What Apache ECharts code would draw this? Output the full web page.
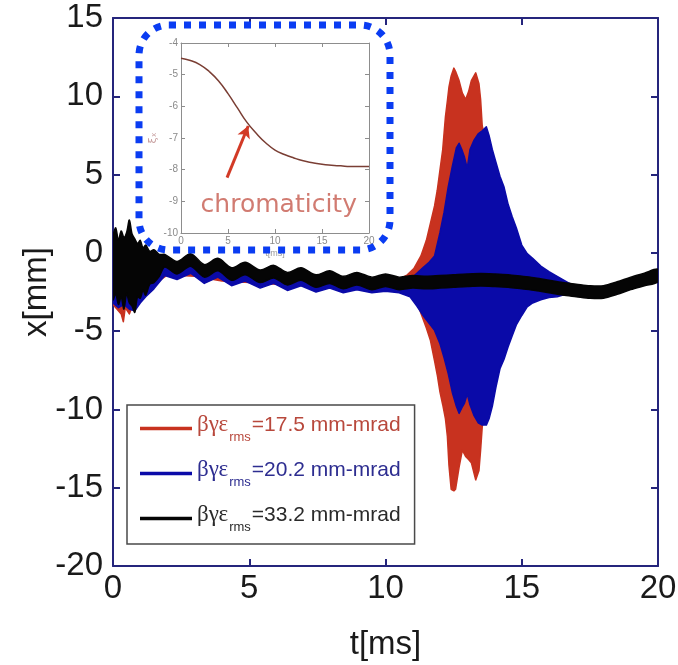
<!DOCTYPE html>
<html>
<head>
<meta charset="utf-8">
<script src="https://cdn.jsdelivr.net/npm/echarts@6/dist/echarts.min.js"></script>
<style>html,body{margin:0;padding:0;background:#fff}#c{width:678px;height:665px}</style>
</head>
<body>
<div id="c"></div>
<script>
// ---------- main chart data ----------
const xTicks = [0, 5, 10, 15, 20];
const yTicks = [-20, -15, -10, -5, 0, 5, 10, 15];

// red beam: beta-gamma-eps_rms = 17.5 mm-mrad (envelope: upper / lower)
const redT  = [0.0, 0.15, 0.3, 0.38, 0.45, 0.6, 0.75, 1.0, 1.3, 1.6, 2.0, 3.0, 4.0, 5.0, 6.0, 7.0, 8.0, 9.0, 10.0, 10.6, 10.8, 11.04, 11.3, 11.5, 11.65, 11.8, 11.9, 12.0, 12.1, 12.2, 12.27, 12.33, 12.41, 12.51, 12.57, 12.7, 12.82, 12.94, 13.05, 13.15, 13.31, 13.43, 13.49, 13.55, 13.7, 14.0, 14.3, 14.6, 15.0, 15.5, 16.0, 17.0, 18.0, 19.0, 20.0];
const redHi = [0.0, 0.5, 0.2, 0.4, 0.3, 0.8, 0.4, 0.0, -0.3, -0.5, -0.8, -1.0, -1.2, -1.3, -1.5, -1.6, -1.7, -1.8, -1.8, -1.6, -1.4, -1.0, -0.2, 0.8, 1.9, 3.0, 4.0, 5.3, 6.6, 8.7, 9.7, 10.6, 11.3, 11.8, 11.6, 11.0, 10.2, 9.8, 10.3, 11.0, 11.5, 10.8, 9.8, 8.1, 7.0, 5.0, 3.0, 1.2, -0.5, -1.4, -1.8, -2.2, -2.3, -1.8, -1.3];
const redLo = [-3.3, -3.6, -3.9, -4.4, -3.5, -3.9, -3.2, -3.0, -2.5, -1.9, -1.4, -1.5, -1.8, -1.9, -2.0, -2.1, -2.2, -2.3, -2.4, -2.5, -2.55, -2.6, -3.85, -4.8, -5.6, -6.9, -7.8, -8.9, -9.7, -10.6, -11.7, -13.6, -15.1, -15.2, -15.1, -13.7, -12.6, -13.0, -13.2, -13.4, -14.5, -13.9, -12.6, -11.1, -10.0, -8.0, -6.0, -4.5, -3.2, -2.7, -2.6, -2.7, -2.7, -2.2, -1.7];

// blue beam: 20.2 mm-mrad
const blueT  = [0.0, 0.2, 0.4, 0.6, 0.8, 1.0, 1.2, 1.5, 1.9, 2.35, 2.85, 3.35, 3.85, 4.35, 4.85, 5.4, 5.9, 6.4, 6.9, 7.45, 7.95, 8.45, 8.95, 9.5, 10.0, 10.5, 10.9, 11.15, 11.4, 11.6, 11.8, 12.0, 12.15, 12.3, 12.45, 12.6, 12.7, 12.8, 12.9, 13.0, 13.1, 13.25, 13.4, 13.55, 13.7, 13.8, 13.92, 14.05, 14.2, 14.35, 14.5, 14.65, 14.8, 15.0, 15.2, 15.4, 15.7, 16.0, 16.3, 16.7, 17.0, 17.5, 18.0, 18.5, 19.0, 19.5, 20.0];
const blueHi = [0.5, 0.8, 0.5, 1.0, 0.3, 0.2, 0.0, -0.3, -0.6, -1.0, -0.5, -1.2, -0.8, -1.4, -1.05, -1.55, -1.25, -1.7, -1.4, -1.85, -1.6, -1.95, -1.7, -2.0, -1.8, -1.9, -1.7, -1.3, -0.9, -0.6, -0.2, 1.3, 2.6, 4.2, 5.5, 6.7, 7.0, 6.6, 6.1, 5.4, 6.6, 7.2, 7.6, 7.8, 8.05, 7.5, 6.6, 5.8, 4.9, 4.2, 3.1, 2.3, 1.6, 0.5, -0.05, -0.35, -0.85, -1.2, -1.5, -1.9, -2.15, -2.3, -2.3, -2.05, -1.75, -1.5, -1.25];
const blueLo = [-3.2, -3.5, -3.3, -3.6, -3.7, -3.2, -2.8, -2.3, -1.45, -1.7, -1.3, -1.95, -1.55, -2.1, -1.8, -2.25, -1.95, -2.4, -2.1, -2.5, -2.25, -2.55, -2.35, -2.55, -2.45, -2.55, -2.8, -3.4, -4.05, -4.5, -4.95, -5.8, -6.7, -7.7, -8.9, -9.8, -10.25, -9.9, -9.6, -9.0, -9.7, -10.4, -10.85, -11.0, -11.0, -10.6, -9.8, -8.6, -7.4, -6.8, -6.0, -5.3, -4.6, -4.0, -3.45, -3.2, -3.0, -2.85, -2.8, -2.6, -2.75, -2.85, -2.85, -2.6, -2.3, -2.05, -1.8];

// black beam: 33.2 mm-mrad
const blackT  = [0.0, 0.1, 0.2, 0.3, 0.4, 0.5, 0.6, 0.7, 0.8, 0.9, 1.0, 1.1, 1.2, 1.35, 1.5, 1.7, 1.9, 2.35, 2.85, 3.35, 3.85, 4.35, 4.85, 5.4, 5.9, 6.4, 6.9, 7.45, 7.95, 8.45, 8.95, 9.5, 10.0, 10.5, 11.0, 11.5, 12.0, 12.5, 13.0, 13.5, 14.0, 14.5, 15.0, 15.5, 16.0, 16.5, 17.0, 17.5, 18.0, 18.5, 19.0, 19.5, 20.0];
const blackHi = [1.0, 1.6, 0.8, 1.4, 1.0, 1.3, 2.1, 1.2, 0.9, 0.6, 0.8, 0.3, 0.5, 0.1, 0.2, -0.1, -0.1, -0.55, -0.05, -0.75, -0.35, -0.95, -0.6, -1.1, -0.8, -1.25, -0.95, -1.4, -1.15, -1.5, -1.25, -1.55, -1.35, -1.55, -1.45, -1.5, -1.45, -1.4, -1.35, -1.32, -1.35, -1.4, -1.5, -1.6, -1.75, -1.9, -2.0, -2.1, -2.1, -1.85, -1.55, -1.3, -1.05];
const blackLo = [-3.0, -2.6, -3.3, -2.8, -3.6, -2.6, -3.2, -3.4, -3.8, -2.8, -2.9, -2.4, -2.7, -2.0, -1.9, -1.5, -0.9, -1.35, -0.85, -1.55, -1.15, -1.75, -1.4, -1.9, -1.6, -2.05, -1.75, -2.2, -1.95, -2.3, -2.05, -2.35, -2.15, -2.35, -2.25, -2.3, -2.25, -2.2, -2.15, -2.12, -2.15, -2.2, -2.3, -2.4, -2.55, -2.7, -2.8, -2.9, -2.9, -2.65, -2.35, -2.1, -1.85];

const seriesNames = ['red', 'blue', 'black'];
const legendValues = ['=17.5 mm-mrad', '=20.2 mm-mrad', '=33.2 mm-mrad'];

// ---------- inset (chromaticity) data ----------
const insetT = [0, 1, 2, 3, 4, 5, 6, 7, 8, 9, 10, 11, 12, 13, 14, 15, 16, 17, 18, 19, 20];
const insetChrom = [-4.48, -4.55, -4.68, -4.9, -5.2, -5.6, -6.05, -6.5, -6.85, -7.15, -7.38, -7.52, -7.63, -7.72, -7.78, -7.83, -7.86, -7.88, -7.9, -7.9, -7.9];
const insetXTicks = [0, 5, 10, 15, 20];
const insetYTicks = [-10, -9, -8, -7, -6, -5, -4];
const arrowFrom = [4.9, -8.25];
const arrowTo = [7.15, -6.62];
const labelPoint = [10.4, -9.12];

// ---------- styles ----------
const colors = {red: '#c8321f', blue: '#0a0aa8', black: '#050505'};
const legendText = {red: '#b8483c', blue: '#2d2d90', black: '#2a2a2a'};
const axisNavy = '#25257c';
const SANS = 'Liberation Sans, Arial, sans-serif';

function band(name, T, HI, LO, color, z, smooth) {
  return {
    type: 'custom', name: name, xAxisIndex: 0, yAxisIndex: 0, z: z,
    itemStyle: {color: color},
    data: T.map((t, i) => [t, HI[i], LO[i]]),
    encode: {x: 0, y: [1, 2]},
    silent: true, animation: false, clip: true,
    renderItem: function (params, api) {
      if (params.dataIndex !== 0) return null;
      const up = T.map((t, i) => api.coord([t, HI[i]]));
      const dn = T.map((t, i) => api.coord([t, LO[i]])).reverse();
      return {type: 'polygon', shape: {points: up.concat(dn), smooth: smooth},
              style: {fill: color, stroke: color, lineWidth: 1.5, lineJoin: 'round'}};
    }
  };
}

const chart = echarts.init(document.getElementById('c'), null, {renderer: 'canvas'});

const mainAxisCommon = {
  axisLine: {show: true, onZero: false, lineStyle: {color: axisNavy, width: 2}},
  axisTick: {show: true, inside: true, length: 7, lineStyle: {color: axisNavy, width: 2}},
  splitLine: {show: false}
};
const insetAxisCommon = {
  axisLine: {show: true, onZero: false, lineStyle: {color: '#8d8d8d', width: 1}},
  axisTick: {show: true, inside: true, length: 4, lineStyle: {color: '#8d8d8d', width: 1}},
  splitLine: {show: false}
};

const richLegend = {};
seriesNames.forEach(n => {
  richLegend['g_' + n] = {fontFamily: 'Liberation Serif, serif', fontSize: 23, color: legendText[n], padding: [0, 1, 8, 0], verticalAlign: 'bottom'};
  richLegend['s_' + n] = {fontFamily: SANS, fontSize: 13, color: legendText[n], verticalAlign: 'bottom', padding: [0, 1, 0, 0]};
  richLegend['v_' + n] = {fontFamily: SANS, fontSize: 21, color: legendText[n], padding: [0, 0, 8, 0], verticalAlign: 'bottom'};
});

const option = {
  backgroundColor: '#ffffff',
  animation: false,
  grid: [
    {left: 113, top: 18, width: 545, height: 548, outerBoundsMode: 'none', containLabel: false},
    {left: 181, top: 43, width: 188, height: 190, show: true, backgroundColor: '#ffffff', borderWidth: 0, z: 5, outerBoundsMode: 'none', containLabel: false}
  ],
  xAxis: [
    Object.assign({type: 'value', gridIndex: 0, position: 'bottom', min: xTicks[0], max: xTicks[xTicks.length - 1], interval: 5,
      axisLabel: {fontSize: 33, color: '#1a1a1a', fontFamily: SANS, margin: 6, showMinLabel: true, showMaxLabel: true},
      name: 't[ms]', nameLocation: 'middle', nameGap: 62, nameMoveOverlap: false,
      nameTextStyle: {fontSize: 33, color: '#1a1a1a', fontFamily: SANS}}, mainAxisCommon),
    Object.assign({type: 'value', gridIndex: 0, position: 'top', min: 0, max: 20, interval: 5,
      axisLabel: {show: false}}, mainAxisCommon),
    Object.assign({type: 'value', gridIndex: 1, position: 'bottom', min: insetXTicks[0], max: insetXTicks[insetXTicks.length - 1], interval: 5,
      axisLabel: {fontSize: 10, color: '#8a8a8a', fontFamily: SANS, margin: 3},
      name: 't[ms]', nameLocation: 'middle', nameGap: 16, nameMoveOverlap: false,
      nameTextStyle: {fontSize: 9, color: '#9a9a9a', fontFamily: SANS}, z: 6}, insetAxisCommon),
    Object.assign({type: 'value', gridIndex: 1, position: 'top', min: 0, max: 20, interval: 5,
      axisLabel: {show: false}, z: 6}, insetAxisCommon)
  ],
  yAxis: [
    Object.assign({type: 'value', gridIndex: 0, position: 'left', min: yTicks[0], max: yTicks[yTicks.length - 1], interval: 5,
      axisLabel: {fontSize: 33, color: '#1a1a1a', fontFamily: SANS, margin: 10, showMinLabel: true, showMaxLabel: true},
      name: 'x[mm]', nameLocation: 'middle', nameGap: 60, nameMoveOverlap: false,
      nameTextStyle: {fontSize: 33, color: '#1a1a1a', fontFamily: SANS}}, mainAxisCommon),
    Object.assign({type: 'value', gridIndex: 0, position: 'right', min: -20, max: 15, interval: 5,
      axisLabel: {show: false}}, mainAxisCommon),
    Object.assign({type: 'value', gridIndex: 1, position: 'left', min: insetYTicks[0], max: insetYTicks[insetYTicks.length - 1], interval: 1,
      axisLabel: {fontSize: 10, color: '#8a8a8a', fontFamily: SANS, margin: 3},
      name: 'ξₓ', nameLocation: 'middle', nameGap: 22, nameMoveOverlap: false,
      nameTextStyle: {fontSize: 11, color: '#c8a0a0', fontFamily: 'DejaVu Sans, sans-serif'}, z: 6}, insetAxisCommon),
    Object.assign({type: 'value', gridIndex: 1, position: 'right', min: -10, max: -4, interval: 1,
      axisLabel: {show: false}, z: 6}, insetAxisCommon)
  ],
  legend: {
    orient: 'vertical', left: 127, top: 405,
    padding: [8, 14, 10, 13], itemGap: 14,
    itemWidth: 52, itemHeight: 3.5, icon: 'rect',
    backgroundColor: '#ffffff', borderColor: '#4a4a4a', borderWidth: 1.5,
    selectedMode: false,
    data: seriesNames.map(n => ({name: n, itemStyle: {color: colors[n]}})),
    formatter: function (name) {
      const i = seriesNames.indexOf(name);
      return '{g_' + name + '|βγε}{s_' + name + '|rms}{v_' + name + '|' + legendValues[i] + '}';
    },
    textStyle: {rich: richLegend, padding: [0, 0, 0, 0]},
    z: 10
  },
  graphic: [{
    type: 'rect', z: 100, silent: true,
    shape: {x: 139, y: 25, width: 251, height: 225, r: 30},
    style: {fill: 'none', stroke: '#0a3cf2', lineWidth: 7, lineDash: [7, 8]}
  }],
  series: [
    band('red', redT, redHi, redLo, colors.red, 2, 0),
    band('blue', blueT, blueHi, blueLo, colors.blue, 3, 0),
    band('black', blackT, blackHi, blackLo, colors.black, 4, 0.3),
    {
      type: 'line', name: 'chromaticity', xAxisIndex: 2, yAxisIndex: 2, z: 7,
      data: insetT.map((t, i) => [t, insetChrom[i]]),
      showSymbol: false, smooth: true, silent: true,
      lineStyle: {color: '#7a3e34', width: 1.5},
      markLine: {
        silent: true, symbol: ['none', 'arrow'], symbolSize: [10, 12],
        lineStyle: {color: '#d23a26', width: 3, type: 'solid'},
        label: {show: false},
        data: [[{coord: arrowFrom}, {coord: arrowTo}]]
      }
    },
    {
      type: 'scatter', name: 'chromLabel', xAxisIndex: 2, yAxisIndex: 2, z: 8,
      data: [labelPoint], symbolSize: 1, itemStyle: {color: 'rgba(0,0,0,0)'}, silent: true,
      label: {show: true, position: 'inside', formatter: 'chromaticity',
        fontSize: 25, color: '#c55a4e', fontFamily: 'DejaVu Sans, sans-serif'}
    }
  ]
};
chart.setOption(option);
</script>
</body>
</html>
